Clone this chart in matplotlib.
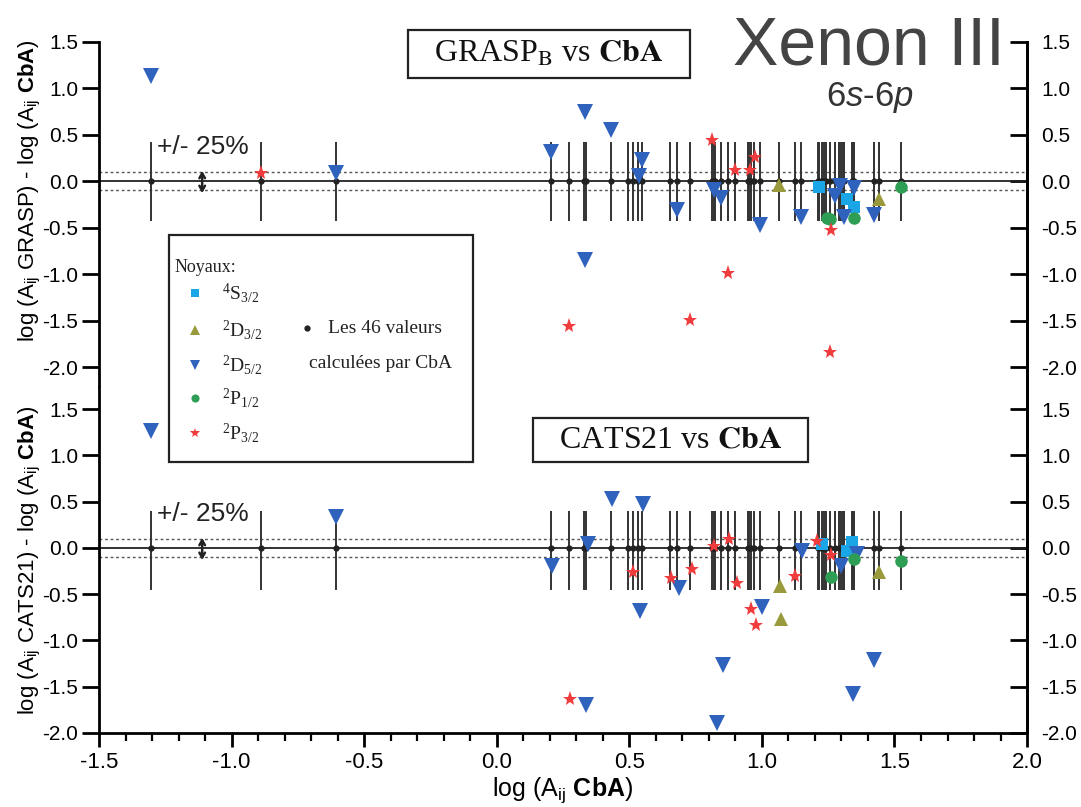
import matplotlib
matplotlib.use('Agg')
import matplotlib.pyplot as plt
from matplotlib.lines import Line2D
from matplotlib.patches import Rectangle

plt.rcParams['font.family'] = ['Liberation Sans', 'DejaVu Sans']
plt.rcParams['mathtext.fontset'] = 'custom'
plt.rcParams['mathtext.rm'] = 'Liberation Sans'
plt.rcParams['mathtext.it'] = 'Liberation Sans:italic'
plt.rcParams['mathtext.bf'] = 'Liberation Sans:bold'
plt.rcParams['axes.unicode_minus'] = False

# positions log(A CbA) des 46 valeurs calculees
cba_x = [-1.304, -0.889, -0.606, 0.205, 0.271, 0.328, 0.338, 0.431, 0.494, 0.513,
         0.533, 0.548, 0.652, 0.680, 0.730, 0.812, 0.818, 0.823, 0.846, 0.871,
         0.900, 0.948, 0.952, 0.957, 0.972, 0.994, 1.065, 1.123, 1.148, 1.210,
         1.214, 1.227, 1.235, 1.240, 1.258, 1.277, 1.290, 1.299, 1.305, 1.311,
         1.340, 1.345, 1.349, 1.422, 1.441, 1.523]

# GRASP_B vs CbA
g_s32_x = [1.214, 1.321, 1.347]
g_s32_y = [-0.06, -0.19, -0.28]
g_d32_x = [1.065, 1.441]
g_d32_y = [-0.04, -0.19]
g_d52_x = [-1.304, -0.606, 0.205, 0.334, 0.431, 0.535, 0.548, 0.680, 0.818, 0.844,
           0.994, 1.148, 1.277, 1.296, 1.309, 1.347, 1.422, 0.331]
g_d52_y = [1.13, 0.09, 0.31, 0.74, 0.55, 0.05, 0.23, -0.31, -0.10, -0.18,
           -0.47, -0.39, -0.16, -0.05, -0.39, -0.08, -0.37, -0.85]
g_p12_x = [1.245, 1.258, 1.347, 1.523]
g_p12_y = [-0.40, -0.41, -0.40, -0.06]
g_p32_x = [-0.889, 0.811, 0.900, 0.954, 0.975, 1.261, 0.271, 0.730, 0.872, 1.258]
g_p32_y = [0.09, 0.44, 0.12, 0.12, 0.26, -0.53, -1.56, -1.49, -0.99, -1.84]

# CATS21 vs CbA
c_s32_x = [1.227, 1.320, 1.340]
c_s32_y = [0.04, -0.03, 0.06]
c_d32_x = [1.070, 1.072, 1.441]
c_d32_y = [-0.41, -0.77, -0.26]
c_d52_x = [-1.304, -0.606, 0.208, 0.343, 0.434, 0.551, 0.541, 0.686, 1.000, 0.853,
           0.831, 0.338, 1.152, 1.300, 1.360, 1.342, 1.421]
c_d52_y = [1.27, 0.33, -0.19, 0.04, 0.53, 0.48, -0.68, -0.43, -0.64, -1.27,
           -1.89, -1.70, -0.03, -0.19, -0.07, -1.58, -1.21]
c_p12_x = [1.259, 1.347, 1.523]
c_p12_y = [-0.31, -0.12, -0.14]
c_p32_x = [0.275, 0.514, 0.657, 0.737, 0.818, 0.875, 0.906, 0.959, 0.979, 1.126, 1.208, 1.259]
c_p32_y = [-1.63, -0.26, -0.32, -0.23, 0.02, 0.10, -0.38, -0.66, -0.83, -0.30, 0.08, -0.08]

styles = {
    's32': dict(marker='s', color='#1aa6e6', ms=8),
    'd32': dict(marker='^', color='#999a3c', ms=10),
    'd52': dict(marker='v', color='#2f62bd', ms=11),
    'p12': dict(marker='o', color='#2f9e55', ms=9),
    'p32': dict(marker='*', color='#f03c3c', ms=11),
}

fig = plt.figure(figsize=(10.81, 8.07), dpi=100)
ax1 = fig.add_axes([0.0916, 0.5204, 0.8585, 0.4281])
ax2 = fig.add_axes([0.0916, 0.0917, 0.8585, 0.4287])

yt = [-2.0, -1.5, -1.0, -0.5, 0.0, 0.5, 1.0, 1.5]

panels = [
    (ax1, (-2.215, 1.5), [(g_s32_x, g_s32_y, 's32'), (g_d32_x, g_d32_y, 'd32'),
                          (g_d52_x, g_d52_y, 'd52'), (g_p12_x, g_p12_y, 'p12'),
                          (g_p32_x, g_p32_y, 'p32')], 0.42, -0.43,
     r'log (A$_{\mathregular{ij}}$ GRASP) - log (A$_{\mathregular{ij}}$ $\mathbf{CbA}$)'),
    (ax2, (-2.0, 1.74), [(c_s32_x, c_s32_y, 's32'), (c_d32_x, c_d32_y, 'd32'),
                         (c_d52_x, c_d52_y, 'd52'), (c_p12_x, c_p12_y, 'p12'),
                         (c_p32_x, c_p32_y, 'p32')], 0.40, -0.45,
     r'log (A$_{\mathregular{ij}}$ CATS21) - log (A$_{\mathregular{ij}}$ $\mathbf{CbA}$)'),
]

for ax, ylim, series, up, down, ylab in panels:
    ax.set_xlim(-1.5, 2.0)
    ax.set_ylim(*ylim)
    ax.axhline(0, color='#222', lw=1.3, zorder=2)
    for yl in (0.097, -0.097):
        ax.axhline(yl, color='#555', lw=1.0, ls=(0, (2, 2)), zorder=2)
    ax.vlines(cba_x, down, up, color='#333', lw=1.4, zorder=2)
    ax.plot(cba_x, [0] * len(cba_x), 'o', color='#222', ms=3.5, zorder=3)
    for xs, ys, key in series:
        st = styles[key]
        ax.plot(xs, ys, ls='none', marker=st['marker'], color=st['color'],
                ms=st['ms'], mew=0, zorder=4)
    # fleche +/- 25%
    ax.annotate('', xy=(-1.111, -0.13), xytext=(-1.111, 0.11),
                arrowprops=dict(arrowstyle='<->,head_length=0.35,head_width=0.2',
                                color='#222', lw=1.8, shrinkA=0, shrinkB=0), zorder=5)
    ax.text(-1.28, 0.37, '+/- 25%', fontsize=19, va='center', ha='left', color='#222')

    ax.spines['top'].set_visible(False)
    for s in ('left', 'right', 'bottom'):
        ax.spines[s].set_linewidth(2)
    ax.set_yticks(yt)
    ax.tick_params(axis='y', direction='out', length=12, width=2, labelsize=15, pad=3)
    sec = ax.secondary_yaxis('right')
    sec.set_yticks(yt)
    sec.tick_params(direction='in', length=12, width=2, labelsize=15, pad=10)
    sec.spines['right'].set_linewidth(2)
    ax.set_ylabel(ylab, fontsize=16)

ax1.spines['bottom'].set_visible(False)
ax1.tick_params(axis='x', which='both', bottom=False, labelbottom=False)
ax1.yaxis.set_label_coords(-0.06, 0.57)
ax2.yaxis.set_label_coords(-0.06, 0.5)

ax2.set_xticks([-1.5, -1.0, -0.5, 0.0, 0.5, 1.0, 1.5, 2.0])
ax2.set_xticks([i / 10 for i in range(-15, 21)], minor=True)
ax2.tick_params(axis='x', which='major', direction='out', length=10, width=2, labelsize=16)
ax2.tick_params(axis='x', which='minor', direction='out', length=6, width=1.6)
ax2.set_xlabel(r'log (A$_{\mathregular{ij}}$ $\mathbf{CbA}$)', fontsize=18, labelpad=2)

# titres encadres
fig.add_artist(Rectangle((0.3774, 0.9033), 0.2609, 0.0595, transform=fig.transFigure,
                         fc='white', ec='#222', lw=1.6, zorder=6))
fig.text(0.508, 0.933, r'GRASP$_{\mathrm{B}}$ vs $\mathbf{CbA}$',
         fontsize=23, family='Liberation Serif', math_fontfamily='stix',
         ha='center', va='center', zorder=7, color='#111')
fig.add_artist(Rectangle((0.4931, 0.4275), 0.2544, 0.0545, transform=fig.transFigure,
                         fc='white', ec='#222', lw=1.6, zorder=6))
fig.text(0.620, 0.455, r'CATS21 vs $\mathbf{CbA}$',
         fontsize=23, family='Liberation Serif', math_fontfamily='stix',
         ha='center', va='center', zorder=7, color='#111')

fig.text(0.678, 0.942, 'Xenon III', fontsize=49, color='#444', ha='left', va='center')
fig.text(0.805, 0.879, r'6$\mathit{s}$-6$\mathit{p}$', fontsize=25, color='#333',
         ha='center', va='center')

# legende
fig.add_artist(Rectangle((0.1563, 0.4275), 0.2812, 0.2813, transform=fig.transFigure,
                         fc='white', ec='#222', lw=1.6, zorder=10))
serif = dict(family='Liberation Serif', zorder=11, color='#222')
fig.text(0.1619, 0.6685, 'Noyaux:', fontsize=13, va='center', ha='left', **serif)
leg_keys = ['s32', 'd32', 'd52', 'p12', 'p32']
leg_labels = [r'$\mathregular{^4S_{3/2}}$', r'$\mathregular{^2D_{3/2}}$',
              r'$\mathregular{^2D_{5/2}}$', r'$\mathregular{^2P_{1/2}}$',
              r'$\mathregular{^2P_{3/2}}$']
leg_y = [0.637, 0.591, 0.548, 0.507, 0.464]
for key, lab, yy in zip(leg_keys, leg_labels, leg_y):
    st = styles[key]
    fig.add_artist(Line2D([0.1804], [yy], transform=fig.transFigure, ls='none',
                          marker=st['marker'], color=st['color'], ms=st['ms'] * 0.65,
                          mew=0, zorder=11))
    fig.text(0.205, yy, lab, fontsize=14, va='center', ha='left', **serif)
fig.add_artist(Line2D([0.284], [0.593], transform=fig.transFigure, ls='none',
                      marker='o', color='#222', ms=3.5, zorder=11))
fig.text(0.303, 0.593, 'Les 46 valeurs', fontsize=14, va='center', ha='left', **serif)
fig.text(0.286, 0.549, 'calculées par CbA', fontsize=14, va='center', ha='left', **serif)

fig.savefig('out.png', dpi=100)
